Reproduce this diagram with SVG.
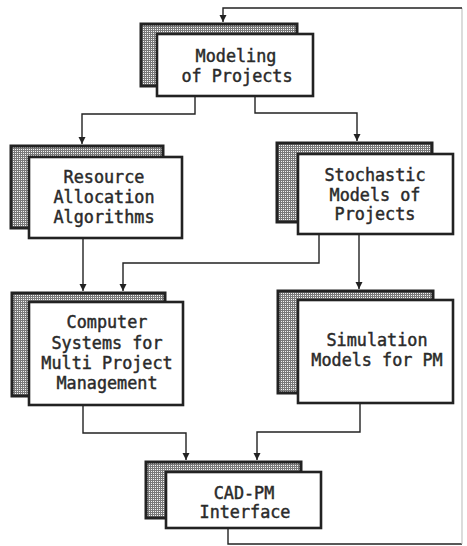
<svg xmlns="http://www.w3.org/2000/svg" width="467" height="546" viewBox="0 0 467 546">
<defs>
<pattern id="stip" width="2" height="2" patternUnits="userSpaceOnUse">
<rect width="2" height="2" fill="#7a7a7a"/>
<rect x="1" y="1" width="1" height="1" fill="#f4f4f4"/>
</pattern>
<marker id="arr" markerUnits="userSpaceOnUse" markerWidth="8" markerHeight="8" refX="7" refY="3.5" orient="auto">
<path d="M0,0 L7,3.5 L0,7 z" fill="#222"/>
</marker>
</defs>
<style>
.sh{fill:url(#stip);stroke:#222;stroke-width:3}
.fr{fill:#fff;stroke:#222;stroke-width:2.6}
.t{font-family:"DejaVu Sans Mono","Liberation Mono",monospace;font-size:16.8px;fill:#2a2a2a;text-anchor:middle;stroke:#2a2a2a;stroke-width:0.45}
.c{fill:none;stroke:#222;stroke-width:1.4}
.cf{fill:none;stroke:#c4c4c4;stroke-width:1.2}
</style>
<rect width="467" height="546" fill="#fff"/>
<g id="connectors">
<path class="c" d="M228,528 V544 H462"/>
<path class="cf" d="M462,544 V8"/>
<path class="c" d="M462,8 H223 V22" marker-end="url(#arr)"/>
<path class="c" d="M195,96 V114 H82 V144" marker-end="url(#arr)"/>
<path class="c" d="M255,96 V113 H357 V141" marker-end="url(#arr)"/>
<path class="c" d="M83,238 V291" marker-end="url(#arr)"/>
<path class="c" d="M319,234 V263 H123 V291" marker-end="url(#arr)"/>
<path class="c" d="M359,234 V289" marker-end="url(#arr)"/>
<path class="c" d="M83,405 V433 H186 V460" marker-end="url(#arr)"/>
<path class="c" d="M360,403 V432 H257 V460" marker-end="url(#arr)"/>
</g>
<g id="modeling">
<rect class="sh" x="141" y="24" width="156" height="62"/>
<rect class="fr" x="157" y="34" width="156" height="62"/>
<text class="t" x="236" y="62">Modeling</text>
<text class="t" x="237" y="82">of Projects</text>
</g>
<g id="resource">
<rect class="sh" x="11" y="146" width="152" height="82"/>
<rect class="fr" x="29" y="157" width="153" height="81"/>
<text class="t" x="104" y="183">Resource</text>
<text class="t" x="104" y="203">Allocation</text>
<text class="t" x="104" y="223">Algorithms</text>
</g>
<g id="stochastic">
<rect class="sh" x="277" y="143" width="155" height="79"/>
<rect class="fr" x="298" y="154" width="155" height="80"/>
<text class="t" x="375" y="181">Stochastic</text>
<text class="t" x="375" y="201">Models of</text>
<text class="t" x="375" y="220">Projects</text>
</g>
<g id="computer">
<rect class="sh" x="12" y="293" width="153" height="103"/>
<rect class="fr" x="29" y="302" width="154" height="103"/>
<text class="t" x="107" y="328">Computer</text>
<text class="t" x="107" y="349">Systems for</text>
<text class="t" x="107" y="369">Multi Project</text>
<text class="t" x="107" y="389">Management</text>
</g>
<g id="simulation">
<rect class="sh" x="278" y="291" width="155" height="102"/>
<rect class="fr" x="298" y="300" width="155" height="103"/>
<text class="t" x="377" y="346">Simulation</text>
<text class="t" x="377" y="366">Models for PM</text>
</g>
<g id="cadpm">
<rect class="sh" x="146" y="462" width="155" height="56"/>
<rect class="fr" x="166" y="472" width="155" height="56"/>
<text class="t" x="244" y="499">CAD-PM</text>
<text class="t" x="245" y="518">Interface</text>
</g>
</svg>
